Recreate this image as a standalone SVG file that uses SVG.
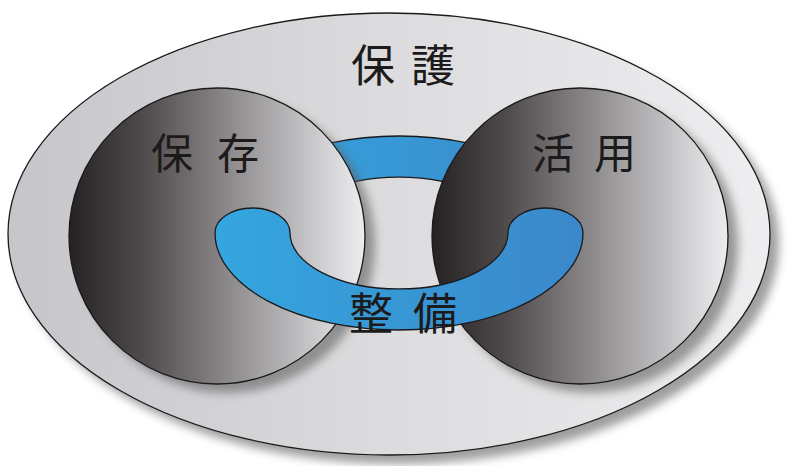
<svg xmlns="http://www.w3.org/2000/svg" width="788" height="466" viewBox="0 0 788 466">
  <defs>
    <linearGradient id="bgGrad" x1="0" y1="0" x2="1" y2="0">
      <stop offset="0" stop-color="#c6c5ca"/>
      <stop offset="0.5" stop-color="#dcdcde"/>
      <stop offset="1" stop-color="#eeeef0"/>
    </linearGradient>
    <linearGradient id="ballGrad" x1="0" y1="0" x2="1" y2="0">
      <stop offset="0" stop-color="#262122"/>
      <stop offset="0.25" stop-color="#4f4a4b"/>
      <stop offset="0.55" stop-color="#8f8c8e"/>
      <stop offset="1" stop-color="#ededef"/>
    </linearGradient>
    <linearGradient id="blueGrad" gradientUnits="userSpaceOnUse" x1="215" y1="0" x2="583" y2="0">
      <stop offset="0" stop-color="#34a6e0"/>
      <stop offset="1" stop-color="#3b88c9"/>
    </linearGradient>
    <filter id="shadow" x="-20%" y="-20%" width="140%" height="140%">
      <feGaussianBlur stdDeviation="5"/>
    </filter>
  </defs>
  <style>
    .outline { stroke: #1a1a1a; stroke-width: 1.3; }
    .shadow { fill: #5e5e60; opacity: 0.6; filter: url(#shadow); }
    .lbl { font-family: "Noto Sans CJK JP", "Noto Sans CJK SC", sans-serif; fill: #1c1a1a; text-anchor: middle; }
  </style>

  <g id="protection">
    <ellipse class="shadow" cx="398" cy="243" rx="381" ry="221"/>
    <ellipse class="outline" cx="389" cy="234" rx="381" ry="221" fill="url(#bgGrad)"/>
    <text class="lbl" x="411" y="82" font-size="44" letter-spacing="16">保護</text>
  </g>

  <g id="connectors">
    <path id="ring-top" class="outline" fill="url(#blueGrad)" d="M 215 233 A 184 97 0 0 1 583 233 L 508 233 A 109 56 0 0 0 290 233 Z"/>
  </g>

  <g id="preservation">
    <circle class="shadow" cx="227" cy="245" r="148"/>
    <circle class="outline" cx="217" cy="236" r="148" fill="url(#ballGrad)"/>
    <text class="lbl" x="217" y="169" font-size="42" letter-spacing="24">保存</text>
  </g>

  <g id="utilization">
    <circle class="shadow" cx="590" cy="245" r="148"/>
    <circle class="outline" cx="580" cy="236" r="148" fill="url(#ballGrad)"/>
    <text class="lbl" x="594" y="169" font-size="42" letter-spacing="20">活用</text>
  </g>

  <g id="maintenance">
    <path id="ring-bottom" class="outline" fill="url(#blueGrad)" d="M 215 233 A 184 97 0 0 0 583 233 A 37.5 25 0 0 0 508 233 A 109 56 0 0 1 290 233 A 37.5 25 0 0 0 215 233 Z"/>
    <text class="lbl" x="413" y="330" font-size="44" letter-spacing="20">整備</text>
  </g>
</svg>
